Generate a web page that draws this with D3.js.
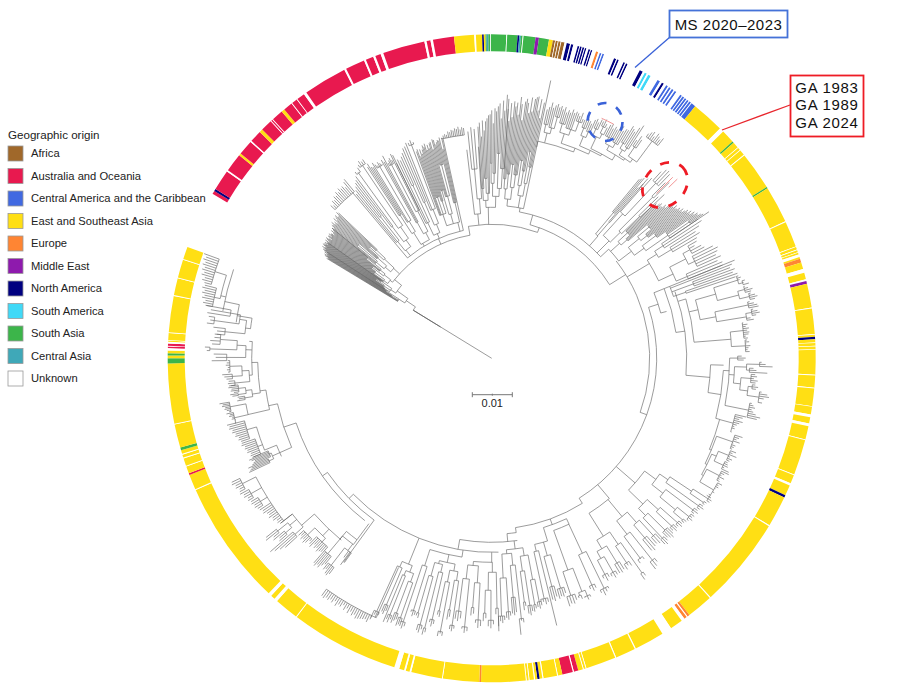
<!DOCTYPE html>
<html>
<head>
<meta charset="utf-8">
<script src="https://cdn.jsdelivr.net/npm/d3@7"></script>
<style>
  html, body { margin: 0; padding: 0; background: #fff; }
  svg { display: block; }
</style>
</head>
<body>
<svg id="chart" width="900" height="684"></svg>
<script>
// legend
var origins = ["Africa", "Australia and Oceania", "Central America and the Caribbean", "East and Southeast Asia",
  "Europe", "Middle East", "North America", "South America", "South Asia", "Central Asia", "Unknown"];
var originColors = ["#a0682a", "#e8194f", "#4169e1", "#ffdf14", "#ff8533", "#8e1aad", "#000080", "#40d9f7", "#3cb54a", "#3fa8b8", "#ffffff"];

// ring: [start position in degrees clockwise from top, origin index]. each band runs to the next start
var ringBands = [[-59.5,1],[-58.9,6],[-58.5,1],[-54.8,10],[-54.5,1],[-51.2,3],[-50.8,1],[-48.1,10],[-47.85,1],[-45.7,3],[-45.1,1],
  [-43,10],[-42.85,1],[-42.6,10],[-42.45,1],[-40.4,3],[-39.8,1],[-38.15,10],[-38,1],[-37,10],[-36.85,1],[-35.4,10],[-34.9,1],
  [-27.05,10],[-26.7,1],[-23.2,10],[-22.85,1],[-21.45,10],[-21.05,1],[-20.05,10],[-19.55,1],[-12,10],[-11.6,1],[-10.9,10],[-10.45,1],
  [-6.7,3],[-3.1,10],[-2.8,3],[-1.7,6],[-1.4,3],[-1.1,8],[-0.9,9],[-0.6,8],[-0.3,10],[-0.15,8],[2.6,10],[2.75,8],[4.6,6],[4.9,9],
  [5.2,8],[5.5,10],[5.65,8],[7.8,5],[8.4,8],[10.2,3],[10.9,0],[11.3,10],[11.42,0],[11.8,10],[11.92,0],[12.3,10],[12.42,0],[13,10],
  [13.4,6],[14,10],[14.2,6],[14.6,10],[15.4,6],[15.7,10],[15.85,6],[16.15,10],[16.3,6],[16.6,10],[16.75,6],[17,10],[17.4,6],[17.7,10],[17.85,6],[18.1,10],
  [18.8,4],[19.2,10],[19.5,2],[19.8,10],[20,2],[20.3,10],[22.2,6],[22.6,10],[22.8,6],[23.1,10],[24,6],[24.3,10],[24.5,6],[24.8,10],
  [27.2,6],[27.8,10],[28.2,7],[28.6,10],[28.9,7],[29.4,10],[30.8,2],[31.3,10],[31.7,6],[32.1,10],[32.6,2],[32.95,10],[33.2,2],[33.55,10],
  [33.8,2],[34.15,10],[34.4,2],[34.75,10],[35.6,2],[35.95,10],[36.1,2],[36.45,10],[36.6,2],[36.95,10],[37.1,2],[37.45,10],[37.6,2],[37.95,10],[38.1,2],[38.9,3],
  [44.8,10],[45.6,3],[48,8],[48.3,3],[49.4,10],[49.52,3],[50,10],[50.12,3],[51.1,10],[51.25,3],[58.1,8],[58.35,3],[65,10],[65.15,3],
  [69.8,10],[69.92,3],[70.4,10],[70.52,3],[70.9,10],[71,3],[71.3,10],[71.8,3],[72.1,4],[72.8,3],[74,10],[74.7,3],[75.9,10],[76.2,5],[76.7,3],
  [81,10],[81.15,3],[85.7,10],[85.85,3],[86.2,6],[86.65,3],[87.2,10],[87.3,3],[87.8,10],[87.9,3],[88.4,10],[88.5,3],[92.9,10],[93.05,3],[95.2,10],[95.35,3],
  [98.5,10],[98.62,3],[100,10],[100.5,3],[101.6,10],[102.1,3],[104.5,10],[104.65,3],[111,10],[111.15,3],[112.7,10],[113.1,3],[115,6],[115.45,3],[121,10],[121.2,3],
  [137.5,10],[137.7,3],[142.4,4],[142.8,10],[143,4],[143.5,10],[144.1,3],[146.4,10],[148.2,3],[153.6,10],[153.8,3],[157.4,10],[157.6,3],[163,10],[163.15,3],[163.5,10],[163.65,3],
  [164.5,1],[165.3,10],[165.5,1],[167.4,3],[168.2,10],[168.35,3],[170.8,10],[171,3],[171.5,6],[171.9,3],[172.3,10],[172.5,3],[173.3,10],[173.45,3],[173.8,10],[173.95,3],
  [181.9,4],[182.2,3],[188.7,10],[188.85,3],[194.4,10],[194.7,3],[195.4,10],[195.7,3],[196.6,10],[197.5,3],[217,10],[217.15,3],[221.5,10],[222.1,3],[222.9,10],[223.5,3],
  [246,10],[246.18,3],[248.9,1],[249.2,3],[250.5,10],[250.65,3],[252,10],[252.15,3],[252.7,10],[252.85,3],[253.5,8],[254,3],[258.2,10],[258.35,3],[269.1,8],[270,3],[270.5,8],[270.9,3],
  [271.4,10],[271.8,1],[272.1,10],[272.2,1],[272.6,10],[272.95,3],[273.15,10],[273.25,3],[274.5,10],[274.62,3],[281.1,10],[281.25,3],[284.3,10],[284.45,3],[287.7,10],[287.85,3]];
var ringEnd = 290.1;

// tree trunk, distances in 1/40 of the 0.01 scale bar
// trunkRays: [position, from, to]   trunkArcs: [distance, from position, to position]
var trunkRays = [[-58.5,0,92],[-56,92,103],[-54.5,103,116],[-51,116,125],[-24,125,131],[-10,125,134],[20,134,139],[16,139,149],[58,139,158],
  [110,158,165],[72,165,175],[75,175,181],[68,175,186],[82,186,195],[95,195,219],[91.7,219,232],[99,219,232],
  [148,165,171],[160,171,177],[172,171,176],[175,176,184],[190,184,194],[225.5,194,200],[235.2,200,206],[216,200,252],
  [216.6,206,226],[220,226,236],[251.7,206,219],[246,219,232],[258,219,228],[262,228,234],[269,234,240],[274,240,243],[279.5,243,258],[282,258,273]];
var trunkArcs = [[92,-58.5,-56],[103,-57.5,-54.5],[116,-55.8,-51],[125,-52.5,-10],[131,-40,-12.5],[134,-10,20],[139,16,58],[149,10.7,47],
  [158,52,110],[165,72,148],[175,68,75],[186,68,82],[195,70,95],[219,91.7,99],[232,93,105],[171,148,172],[177,155,163],[176,172,175],[184,172,190],
  [194,178,225.5],[200,216,235.2],[206,218,251.7],[226,216.6,220],[236,219.6,228.7],[219,246,258],[232,245,248],[228,257,262],[234,261.5,269],[240,266,274],[243,277,279.5],[258,278,282],[273,280,289]];

// clades: [first tip position, last tip position, stem position, stem start, shape]
// shape is nested: [node distance, child, child...], a plain number is a tip distance
var cladeRows = [
  [-58.8,-57.2,-57.5,103,[110,193,191,192,[118,196,194,197,193],[125,195,198,194,196]]],
  [-57.2,-54.8,-55.8,116,[122,[128,199,201,198,200],[130,203,200,199,[140,202,204,201,203]],[135,199,203,201,200]]],
  [-54.8,-50.8,-52.5,125,[128,[133,201,204,200,[145,203,205,202,199,204]],[136,[150,204,201,205,203],[142,203,200,202,[160,205,202,204,206]]]]],
  [-50.8,-46.5,-47.5,125,[133,[140,[150,206,204,208,[175,207,210,206]],[152,208,205,211,207]],[146,[165,210,212,209],[158,209,213,211]]]],
  [-46.5,-39.5,-40,131,[216,222,220,224,223,226,225,228,226,229,227,228,225,230,232]],
  [-39.5,-33,-38.4,131,[138,[150,213,216,[180,219,222]],[146,[165,224,227],[160,[228,231,229,233],[232,235,238,236,237]]]]],
  [-33,-26,-31,131,[134,[148,[170,228,231,226],[160,225,229,[222,226,224,227,225,223]]],[142,[155,227,224,230],[165,[218,221,223,225,222],228,226]]]],
  [-26,-20,-23.6,131,[136,[150,217,220,[190,218,221]],[145,[170,224,228],[160,229,232,[228,231,233,230]]]]],
  [-20,-12.8,-14,131,[140,[152,220,222,214,[170,221,216,220,224],[165,222,225,218]],[150,[175,223,219,224],[168,225,217,227,[200,226,221,223,225]]],[160,224,227,215,226]]],
  [-12.8,-7,-12.5,131,[225,226,228,229,228,231,230,232,231,233,232,234,231,233,232]],
  [-6.8,-3.6,-5.5,134,[145,210,[160,[190,228,232,230],212]]],
  [-3.4,3.8,-1.3,134,[151,[158,[170,232,236,222],[165,[180,238,228,237],240,243]],[162,[175,[195,244,248],[185,235,250,247]],[170,[205,252,255,240],[190,258,248,264,260]]]]],
  [3.8,12,10.7,149,[153,[160,[170,[180,250,238,256],[185,242,258,253]],[172,[195,257,245,263],[185,256,240,259,262]]],[165,[175,[200,258,248,264],[190,250,263,265]],[178,[210,266,252],[195,264,245,261]]],[216,284]]],
  [12.6,38,12,216,[222,[232,[240,255,258,263],[238,258,261,[250,263,260,262]]],[226,[236,[245,259,262,257,260],[242,258,262,259,261,[252,260,258,262,256]]],[230,[240,[248,256,259,258],[246,257,255,260]],[232,[245,[252,262,259,263],[250,[257,262,265,261],258]],[238,[243,[250,262,264,260,263,261],[248,265,267,263,266]],[240,[246,[252,266,272,270],[250,268,274,278]],[244,[255,262,268,265],[262,[270,274,277,279,275,280,278,276,279]]]]]]]]]],
  [39.5,41,41,149,[162,[190,232,234,236],[180,225,231]]],
  [41,46.5,45,149,[166,[195,[225,238,241],[240,252,257,258,256]],[180,[210,[228,247,250]],[205,232,238]]]],
  [46.5,56,47,149,[160,[172,[185,222,226,224,228,230,227],[180,228,232,230,233]],[176,[190,[205,235,238,236,240,237],[198,238,241,239,243,240]],[188,[205,243,246,244,248,245],[215,250,248,252,[240,251,254,256],262]]]]],
  [56,68,59,158,[184,[195,[205,249,251,246],[210,240,243,238]],[200,[218,[226,236,232,238,240],[225,248,252,250,247,251]],[212,246,250,249]]]],
  [68,71.5,68,186,[192,262,258,[215,255,259,256],[205,260,257]]],
  [71.5,88.5,73,195,[203,[212,[233,[258,260,262,260,[262,265,263,268]],[255,[262,263,266,270,268],[265,267,271,273,270]]],[228,[262,264,268,271,272],[258,[264,266,270,272,268],262,265]]],[210,[232,[240,[253,254,258,256,259,257,259,258,255,257],[254,256,258,255,259,257,256,258]]]]]],
  [89.5,103,93,232,[238,[246,250,254,252],[243,[255,[268,270,274,281],[258,262,265,276]],[250,[260,264,266,263,267,265],[258,[262,265,268,266],[270,272,278,280,275,270,274]]]],[262,264,266,268,265,267,270,275,272]]],
  [103,122.5,105,232,[236,[250,261,258,255,259,256,254,252,253,250,251],[238,[255,263,260,258,262,256,259,258,257],[240,[245,[256,262,259,264,258,261,259],[255,258,259,260,257,263]],[242,[256,264,260,258,262,258,259],[258,263,260,261,259,258,260,258,256,255]]]]]],
  [122.5,137,131,165,[190,[204,[214,[240,[258,260,262,261],[256,259,258]],[236,[254,258,260,257]]],[218,[232,[252,256,258,255]],[238,[253,257,256,258,255],[250,254,253]]]],[210,[225,[248,252,254,251],[246,251,253,250]],[220,[244,252,255,253,251],[248,253,256,254]]]]],
  [137,153,140,165,[183,[205,[219,[240,247,250,248],[236,249,252,250]],[222,[258,262,265,267],[240,[249,252,250,253]]]],[210,[225,[250,[262,266,269]],[245,250,248,251]],[220,[240,249,251,250],[228,[246,250,252,249],[244,248,251,247]]]]]],
  [153,162.5,155,177,[183,[215,[256,258,260,263,259],[248,252,254,251]],[225,[250,[256,258,260,257],[253,257,255]],[238,[250,256,259,258,260]]]]],
  [162.5,168.5,163,177,[191,[205,[240,246,249,248,250],[236,247,251,249]],[198,[250,275],[225,[246,250,252,249,248]]]]],
  [168.5,178.5,173,184,[192,[200,[225,[248,252,255,253],[250,254,257]],[215,[250,256,260,258],[246,250,254]]],[196,[208,[262,266,264,278],[240,255,258,256]],[220,[254,258,262,260],[258,262,265,263,268]]]]],
  [178.5,188,180,194,[204,[214,[250,273,256],[232,[262,266,270,268],[255,260,263]]],[208,[225,[262,268,270,265],[250,256,258]],[222,[270,274,276,272],[255,262,265,263]]]]],
  [188,199,188.5,194,[201,[209,[216,[225,[270,273,276,274],[255,262,265]],[228,[278,282,280,283],[258,264,262]]],[212,[220,[268,272,275,271],[278,282,285]],[226,[276,280,284,282],[265,270,268]]]],[205,[218,[264,268,270,266],[278,282,285,283]]]]],
  [199,205,202,194,[222,[229,[238,[275,279,282,284],[272,278,280,283]],[234,[276,280,284,281],285]],[228,[268,274,278,276],[278,281,284,282,286]]]],
  [205,215.6,204,229,[284,288,292,290,291,292,293,294,291,293,290,293,289,292,288,291,290,293,289,292,290,292,291,293,292]],
  [215.8,221,216.6,226,[232,[240,252,256,248,[262,270,273,272,268,270]],[255,265,268,272,270,273,271]]],
  [221,227.5,223.6,236,[245,[250,255,258,259,261,258,260,257,262,260],[255,258,262,264,261,263,260,262]]],
  [227.5,232,228.7,236,[253,[264,280,285,290,294],[262,[270,280,278,284],[275,282,290,288]],268]],
  [232,244.5,232,253,[264,268,270,269,272,271,274,272,273,276,275,277,[272,278,280,279,281,280],[276,282,281,284,283,286],[279,285,284,287,286,289,288]]],
  [244.8,247.5,246,232,[240,[245,268,266,264,267],[242,262,260,258,261,263,259]]],
  [247.5,255.8,248,232,[245,[250,258,260,259,262,261,263,262,265,264],[255,264,266,265,268,267,270,269,272,271,273]]],
  [255.8,260.5,257,228,[250,[264,265,264,263,267,266,269,268,271],[266,268,270,272,271,274,273,276]]],
  [260.5,264,261.5,234,[242,[250,258,256,257],[248,[256,262,264],[255,260,263,262,265,264]]]],
  [264,269.5,266,240,[243,[258,262,265,264],[250,[260,266,268,270],[262,264,265,264,266,265,264]]]],
  [269.5,275,272,240,[246,[265,280,276,278],[255,[282,285,287],[272,280,282,278,276]]]],
  [275,280.5,277,243,[248,[268,278,276,280],[255,[280,287,284,286],[265,288,285,290]]]],
  [280.5,290,283,273,[278,[284,291,294,292,296,294,297,295,298,296],[290,297,300,298,302,300,303,301,304,302,305,303,306]]]
];

// tips picked out in pink inside the two dashed circles
var pinkRays = [[45,233,256],[46,246,258]];
var pinkArcs = [[264,24.6,27.5]];

var scaleBarValue = "0.01";
var scaleBarUnits = 40;

var svg = d3.select("#chart");
var cx = 491.7, cy = 358.3;

var angle = d3.scaleLinear().domain([0, 360]).range([0, 2 * Math.PI]);
var rad = d3.scaleLinear().domain([0, 40]).range([0, 40]);

function px(a, r) { return cx + rad(r) * Math.sin(angle(a)); }
function py(a, r) { return cy - rad(r) * Math.cos(angle(a)); }

function addRay(p, a, r0, r1) {
  p.moveTo(px(a, r0), py(a, r0));
  p.lineTo(px(a, r1), py(a, r1));
}
function addArc(p, r, a0, a1) {
  p.moveTo(px(a0, r), py(a0, r));
  p.arc(cx, cy, rad(r), angle(a0) - Math.PI / 2, angle(a1) - Math.PI / 2);
}

function countTips(node) {
  if (typeof node === "number") return 1;
  return node.slice(1).reduce(function (s, k) { return s + countTips(k); }, 0);
}

// tips go evenly over the clade's span, a node sits midway between its first and last child
function place(node, nextTip) {
  if (typeof node === "number") return { r: node, a: nextTip() };
  var kids = node.slice(1).map(function (k) { return place(k, nextTip); });
  return { r: node[0], kids: kids, a: (kids[0].a + kids[kids.length - 1].a) / 2 };
}

function addNode(p, n, from) {
  addRay(p, n.a, from, n.r);
  if (!n.kids) return;
  var first = n.kids[0].a, last = n.kids[n.kids.length - 1].a;
  addArc(p, n.r, Math.min(first, n.a), Math.max(last, n.a));
  n.kids.forEach(function (k) { addNode(p, k, n.r); });
}

var treePath = d3.path();
trunkRays.forEach(function (d) { addRay(treePath, d[0], d[1], d[2]); });
trunkArcs.forEach(function (d) { addArc(treePath, d[0], d[1], d[2]); });
cladeRows.forEach(function (row) {
  var n = countTips(row[4]), i = 0;
  var root = place(row[4], function () {
    var a = row[0] + (n > 1 ? i * (row[1] - row[0]) / (n - 1) : 0);
    i++;
    return a;
  });
  root.a = row[2];
  addNode(treePath, root, row[3]);
});

svg.append("path")
  .attr("d", treePath.toString())
  .attr("fill", "none")
  .attr("stroke", "#666")
  .attr("stroke-width", 0.65);

// the root stem looks heavier where it leaves the fan
var rootPath = d3.path();
addRay(rootPath, -58.5, 60, 92);
svg.append("path").attr("d", rootPath.toString()).attr("fill", "none").attr("stroke", "#6e6e6e").attr("stroke-width", 1);

var pinkPath = d3.path();
pinkRays.forEach(function (d) { addRay(pinkPath, d[0], d[1], d[2]); });
pinkArcs.forEach(function (d) { addArc(pinkPath, d[0], d[1], d[2]); });
svg.append("path").attr("d", pinkPath.toString()).attr("fill", "none").attr("stroke", "#f08a8a").attr("stroke-width", 0.9);

// coloured ring
var bandArc = d3.arc().innerRadius(307).outerRadius(324);
svg.append("g").selectAll("path")
  .data(ringBands)
  .join("path")
  .attr("transform", "translate(" + cx + "," + cy + ")")
  .attr("d", function (d, i) {
    var end = i + 1 < ringBands.length ? ringBands[i + 1][0] : ringEnd;
    return bandArc({ startAngle: angle(d[0]), endAngle: angle(end) });
  })
  .attr("fill", function (d) { return originColors[d[1]]; });

// dashed circles
svg.append("ellipse")
  .attr("cx", 605).attr("cy", 122).attr("rx", 17.5).attr("ry", 19)
  .attr("fill", "none").attr("stroke", "#3a62d8").attr("stroke-width", 2.6).attr("stroke-dasharray", "9 10.5");
svg.append("ellipse")
  .attr("transform", "translate(665,185) rotate(-45)")
  .attr("rx", 25).attr("ry", 20)
  .attr("fill", "none").attr("stroke", "#ee1c25").attr("stroke-width", 2.8).attr("stroke-dasharray", "9 10.5");

// scale bar
var barX0 = 472.3, barY = 394.7;
var bar = svg.append("g").attr("stroke", "#777").attr("stroke-width", 1);
bar.append("line").attr("x1", barX0).attr("x2", barX0 + rad(scaleBarUnits)).attr("y1", barY).attr("y2", barY);
[0, scaleBarUnits / 2, scaleBarUnits].forEach(function (u) {
  var h = u === scaleBarUnits / 2 ? 1 : 2.5;
  bar.append("line").attr("x1", barX0 + rad(u)).attr("x2", barX0 + rad(u)).attr("y1", barY - h).attr("y2", barY + h);
});
svg.append("text").attr("x", barX0 + rad(scaleBarUnits) / 2).attr("y", 407)
  .attr("text-anchor", "middle").attr("font-family", "Liberation Sans").attr("font-size", 11).attr("fill", "#222")
  .text(scaleBarValue);

// legend
var legend = svg.append("g").attr("font-family", "Liberation Sans").attr("fill", "#222");
legend.append("text").attr("x", 8).attr("y", 139).attr("font-size", 11.6).text("Geographic origin");
origins.forEach(function (name, i) {
  var y = 146 + i * 22.5;
  legend.append("rect").attr("x", 8).attr("y", y).attr("width", 15).attr("height", 15)
    .attr("fill", originColors[i]).attr("stroke", "#9a9a9a").attr("stroke-width", 0.8);
  legend.append("text").attr("x", 31).attr("y", y + 11).attr("font-size", 11.2).text(name);
});

// callouts
svg.append("line").attr("x1", 670).attr("y1", 37).attr("x2", 635).attr("y2", 67.5)
  .attr("stroke", "#3a62d8").attr("stroke-width", 1.3);
svg.append("rect").attr("x", 669.5).attr("y", 10.5).attr("width", 118).attr("height", 27)
  .attr("fill", "#fff").attr("stroke", "#4472d8").attr("stroke-width", 1.8);
svg.append("text").attr("x", 728.5).attr("y", 29.5).attr("text-anchor", "middle")
  .attr("font-family", "Liberation Sans").attr("font-size", 15).attr("letter-spacing", 0.5).attr("fill", "#111").text("MS 2020\u20132023");

svg.append("line").attr("x1", 790).attr("y1", 105).attr("x2", 722).attr("y2", 130)
  .attr("stroke", "#e8262d").attr("stroke-width", 1.3);
svg.append("rect").attr("x", 790.5).attr("y", 75.5).attr("width", 73).attr("height", 61)
  .attr("fill", "#fff").attr("stroke", "#ee1c25").attr("stroke-width", 1.8);
["GA 1983", "GA 1989", "GA 2024"].forEach(function (t, i) {
  svg.append("text").attr("x", 827).attr("y", 92.5 + i * 17.5).attr("text-anchor", "middle")
    .attr("font-family", "Liberation Sans").attr("font-size", 15).attr("letter-spacing", 0.7).attr("fill", "#111").text(t);
});
</script>
</body>
</html>
